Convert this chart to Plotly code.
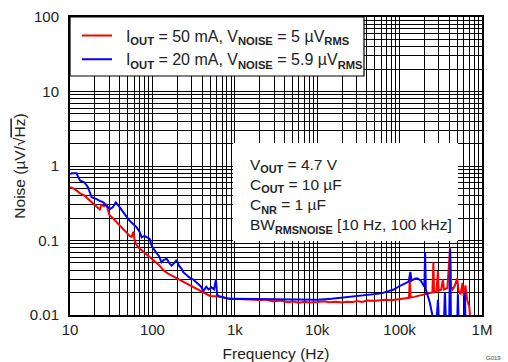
import plotly.graph_objects as go

# ---------------- data ----------------
freq_50mA = [10, 11, 12, 13.2, 15, 17, 19, 21, 23, 24, 26, 27.8, 30, 33, 36, 40, 44, 48.7, 53, 56,
             58.6, 61, 64, 70, 80, 93, 105, 120, 136, 155, 179, 210, 237, 260, 300, 343, 380, 450,
             500, 600, 700, 800, 950, 1100, 1300, 1500, 1800, 2000, 2300, 2700, 3000, 3500, 4000,
             4500, 5000, 6000, 7000, 8000, 10000, 12000, 14000, 17000, 20000, 23000, 27000, 30000,
             35000, 40000, 50000, 60000, 70000, 80000, 100000, 120000, 130000, 133000, 136000,
             150000, 170000, 200000, 230000, 250000, 257000, 262000, 280000, 292000, 297000, 320000,
             335000, 345000, 380000, 410000, 420000, 440000, 470000, 500000, 520000, 550000, 580000,
             600000, 630000, 660000, 700000, 720000, 800000]
noise_50mA = [0.52, 0.50, 0.47, 0.43, 0.40, 0.35, 0.31, 0.285, 0.26, 0.30, 0.29, 0.30, 0.22, 0.20,
              0.18, 0.16, 0.14, 0.125, 0.115, 0.112, 0.131, 0.10, 0.087, 0.078, 0.069, 0.061, 0.054,
              0.047, 0.040, 0.036, 0.033, 0.030, 0.0275, 0.026, 0.024, 0.022, 0.021, 0.019, 0.018,
              0.0178, 0.0172, 0.0168, 0.0165, 0.0164, 0.0166, 0.0162, 0.016, 0.0158, 0.0161, 0.0155,
              0.0152, 0.0156, 0.015, 0.0148, 0.0153, 0.0146, 0.0151, 0.0147, 0.0149, 0.0153, 0.0148,
              0.0151, 0.0147, 0.0151, 0.0149, 0.0154, 0.015, 0.0156, 0.0155, 0.0159, 0.016, 0.0158,
              0.0165, 0.0168, 0.017, 0.032, 0.0172, 0.0175, 0.018, 0.019, 0.0195, 0.020, 0.051, 0.020,
              0.021, 0.039, 0.021, 0.022, 0.030, 0.022, 0.023, 0.081, 0.024, 0.022, 0.025, 0.031,
              0.021, 0.019, 0.027, 0.018, 0.025, 0.016, 0.013, 0.009, 0.008]

freq_20mA = [10, 10.5, 12, 13.2, 15, 16.5, 18.3, 20, 21, 23, 25.4, 28, 30.6, 33, 36, 40, 45, 51, 57,
             64.5, 70, 74, 80, 88, 93, 98, 105, 112, 120, 129, 138, 149, 160, 171, 185, 197, 210,
             225, 237, 260, 280, 313, 340, 360, 390, 417, 450, 480, 522, 560, 590, 610, 630, 700,
             800, 870, 1000, 1500, 2000, 3000, 5000, 7000, 10000, 15000, 20000, 30000, 40000, 60000,
             70000, 85000, 100000, 120000, 129000, 135000, 140000, 155000, 165000, 180000, 195000,
             200000, 204000, 208000, 232000, 240000, 255000, 280000, 292000, 300000, 345000, 355000,
             365000, 400000, 410000, 420000, 500000, 510000, 520000, 610000, 620000, 630000]
noise_20mA = [0.78, 0.80, 0.80, 0.64, 0.60, 0.52, 0.38, 0.37, 0.36, 0.34, 0.325, 0.29, 0.265, 0.28,
              0.325, 0.28, 0.23, 0.194, 0.17, 0.15, 0.13, 0.11, 0.115, 0.11, 0.105, 0.085, 0.075,
              0.068, 0.062, 0.051, 0.055, 0.057, 0.05, 0.046, 0.05, 0.055, 0.046, 0.042, 0.0375,
              0.034, 0.032, 0.030, 0.028, 0.026, 0.024, 0.021, 0.024, 0.022, 0.0235, 0.022, 0.030,
              0.019, 0.018, 0.0175, 0.0168, 0.0164, 0.0165, 0.0164, 0.0163, 0.0161, 0.016, 0.0158,
              0.016, 0.0165, 0.017, 0.0178, 0.0185, 0.0195, 0.0206, 0.022, 0.0245, 0.027, 0.028,
              0.038, 0.029, 0.031, 0.031, 0.029, 0.025, 0.024, 0.070, 0.022, 0.0148, 0.0125, 0.009,
              0.008, 0.016, 0.008, 0.008, 0.020, 0.008, 0.008, 0.077, 0.008, 0.008, 0.019, 0.008,
              0.008, 0.020, 0.008]

series_names = ["\u00a0\u00a0I<sub><b>OUT</b></sub> = 50 mA, V<sub><b>NOISE</b></sub> = 5 \u00b5V<sub><b>RMS</b></sub>",
                "\u00a0\u00a0I<sub><b>OUT</b></sub> = 20 mA, V<sub><b>NOISE</b></sub> = 5.9 \u00b5V<sub><b>RMS</b></sub>"]

x_tickvals = [10, 100, 1000, 10000, 100000, 1000000]
x_ticktext = ["10", "100", "1k", "10k", "100k", "1M"]
x_minor = [m * 10 ** e for e in range(1, 6) for m in range(2, 10)]
y_tickvals = [0.01, 0.1, 1, 10, 100]
y_ticktext = ["0.01", "0.1", "1", "10", "100"]
y_minor = [m * 10.0 ** e for e in range(-2, 2) for m in range(2, 10)]

conditions = ("V<sub><b>OUT</b></sub> = 4.7 V<br>C<sub><b>OUT</b></sub> = 10 \u00b5F<br>"
              "C<sub><b>NR</b></sub> = 1 \u00b5F<br>BW<sub><b>RMSNOISE</b></sub> [10 Hz, 100 kHz]")

FONT = "Liberation Sans, Arial, sans-serif"
TXT = "#222222"

fig = go.Figure()
fig.add_trace(go.Scatter(x=freq_50mA, y=noise_50mA, mode="lines", name=series_names[0],
                         line=dict(color="#ff0000", width=2)))
fig.add_trace(go.Scatter(x=freq_20mA, y=noise_20mA, mode="lines", name=series_names[1],
                         line=dict(color="#0000ff", width=2)))

grid_minor_x = dict(tickvals=x_minor, showgrid=True, gridcolor="black", gridwidth=1, ticks="")
grid_minor_y = dict(tickvals=y_minor, showgrid=True, gridcolor="black", gridwidth=1, ticks="")

fig.update_layout(
    width=508, height=362,
    margin=dict(l=70, r=26, t=17, b=47),
    paper_bgcolor="white", plot_bgcolor="white",
    font=dict(family=FONT, size=15, color=TXT),
    showlegend=True,
    legend=dict(x=0.017, y=0.995, xanchor="left", yanchor="top", bgcolor="rgba(0,0,0,0)",
                borderwidth=0, font=dict(size=16, color=TXT), tracegroupgap=0,
                itemwidth=30),
    xaxis=dict(type="log", range=[1, 6], tickmode="array", tickvals=x_tickvals, ticktext=x_ticktext,
               minor=grid_minor_x,
               showgrid=True, gridcolor="black", gridwidth=1, automargin=False,
               showline=True, linecolor="black", linewidth=2, mirror=True,
               ticks="", tickfont=dict(size=15, color=TXT),
               title=dict(text="Frequency (Hz)", font=dict(size=15.5, color=TXT), standoff=12)),
    yaxis=dict(type="log", range=[-2, 2], tickmode="array", tickvals=y_tickvals, ticktext=y_ticktext,
               minor=grid_minor_y,
               showgrid=True, gridcolor="black", gridwidth=1, automargin=False,
               showline=True, linecolor="black", linewidth=2, mirror=True,
               ticks="", tickfont=dict(size=15, color=TXT), ticklabelstandoff=6,
               title=dict(text="Noise (\u00b5V/\u221a<span style='text-decoration:overline'>Hz</span>)",
                          font=dict(size=15.5, color=TXT), standoff=0)),
    shapes=[
        dict(type="rect", xref="paper", yref="paper", x0=0, x1=0.7136, y0=0.802, y1=1,
             fillcolor="white", line=dict(color="black", width=1.2), layer="above"),
        dict(type="rect", xref="paper", yref="paper", x0=0.3956, x1=0.9417, y0=0.248, y1=0.577,
             fillcolor="white", line=dict(width=0), layer="above"),
    ],
    annotations=[
        dict(text=conditions, xref="paper", yref="paper", x=0.432, y=0.40, xanchor="left",
             yanchor="middle", align="left", showarrow=False, font=dict(size=15.5, color=TXT)),
        dict(text="G019", xref="paper", yref="paper", x=1.05, y=-0.145, showarrow=False,
             font=dict(size=6, color="#444"), xanchor="right", yanchor="middle"),
    ],
)

fig.write_html("out.html", config={"displayModeBar": False},
               post_script="document.body.style.margin='0';document.body.style.padding='0';")
